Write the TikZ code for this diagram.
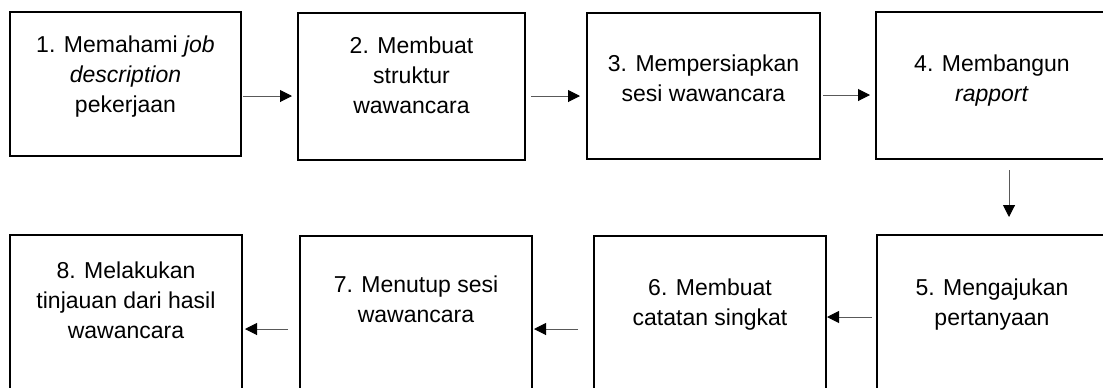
\documentclass[tikz,border=0pt]{standalone}
\usepackage{fontspec}
\setmainfont{Liberation Sans}
\usetikzlibrary{calc,arrows.meta}

\tikzset{
  box/.style={draw=black, line width=1.4pt, inner sep=0pt, outer sep=0pt},
  txt/.style={align=center, inner sep=0pt, anchor=base, font=\fontsize{17.25}{22.5}\selectfont},
  flow/.style={draw=black!65, line width=.75pt, -{Triangle[length=9pt,width=9pt,black]}}
}

\begin{document}
\begin{tikzpicture}[x=0.75pt, y=-0.75pt]
    \clip (0,0) rectangle (1103,387);

    % boxes, centre and size in px
    \foreach \i/\x/\y/\w/\h in {1/125.5/84/231/144, 2/411.5/86.5/227/147, 3/703.5/86/233/146, 4/992/85.5/232/147,
                               5/992/313.5/230/157, 6/710/314/232/156, 7/416/314/232/156, 8/126/313.5/232/157} {
        \node[box, minimum width=0.75*\w pt, minimum height=0.75*\h pt] (b\i) at (\x,\y) {};}

    % base of a text = baseline of its last line
    \node[txt] (t1) at ($(b1.north)+(0,100)$) {1. Memahami \textit{job}\\\textit{description}\\pekerjaan};
    \node[txt] (t2) at ($(b2.north)+(0,100)$) {2. Membuat\\struktur\\wawancara};
    \node[txt] (t3) at ($(b3.north)+(0,88)$) {3. Mempersiapkan\\sesi wawancara};
    \node[txt] (t4) at ($(b4.north)+(0,89)$) {4. Membangun\\\textit{rapport}};
    \node[txt] (t5) at ($(b5.north)+(0,90)$) {5. Mengajukan\\pertanyaan};
    \node[txt] (t6) at ($(b6.north)+(0,89)$) {6. Membuat\\catatan singkat};
    \node[txt] (t7) at ($(b7.north)+(0,86)$) {7. Menutup sesi\\wawancara};
    \node[txt] (t8) at ($(b8.north)+(0,103)$) {8. Melakukan\\tinjauan dari hasil\\wawancara};

    \draw[flow] ($(b1.east)+(2,12)$) -- ($(b2.west)+(-6,9.5)$);
    \draw[flow] ($(b2.east)+(6,9.5)$) -- ($(b3.west)+(-7,10)$);
    \draw[flow] ($(b3.east)+(3,9)$) -- ($(b4.west)+(-6,9.5)$);
    \draw[flow] ($(b4.south)+(17,11)$) -- ($(b5.north)+(17,-18)$);
    \draw[flow] ($(b5.west)+(-5,3.5)$) -- ($(b6.east)+(1,3)$);
    \draw[flow] ($(b6.west)+(-16,15)$) -- ($(b7.east)+(2,15)$);
    \draw[flow] ($(b7.west)+(-12,15)$) -- ($(b8.east)+(3,15.5)$);

\end{tikzpicture}
\end{document}
